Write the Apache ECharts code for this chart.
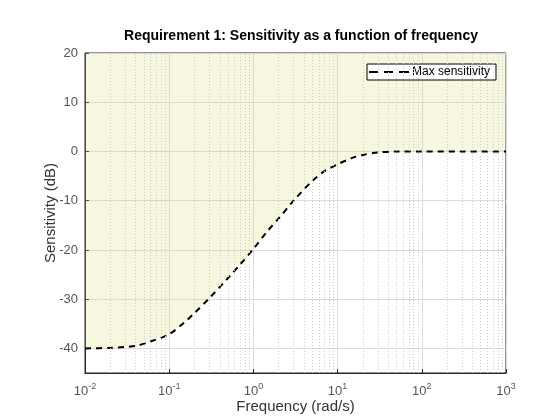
<!DOCTYPE html>
<html>
<head>
<meta charset="utf-8">
<script src="https://cdn.jsdelivr.net/npm/echarts@6/dist/echarts.min.js"></script>
<style>
html, body { margin: 0; padding: 0; background: #fff; }
#chart { width: 560px; height: 420px; }
</style>
</head>
<body>
<div id="chart"></div>
<script>
// values (frequency in rad/s, sensitivity in dB)
var freq = [0.01, 0.02, 0.03, 0.04, 0.06, 0.1, 0.15, 0.2, 0.3, 0.5, 0.7, 1, 1.5, 2, 3, 5, 7, 10, 15, 20, 30, 50, 100, 300, 1000];
var sens = [-40, -39.9, -39.7, -39.5, -38.6, -37.1, -34.8, -32.8, -29.8, -25.7, -22.9, -19.8, -16, -13.6, -10, -6, -4, -2.6, -1.3, -0.7, -0.2, 0, 0, 0, 0];
var yTicks = [-40, -30, -20, -10, 0, 10, 20];
// minor log grid at 2..9 x 10^k
var minorX = [];
for (var e = -2; e < 3; e++) {
	for (var m = 2; m <= 9; m++) {
		minorX.push(m * Math.pow(10, e));
	}
}

var pts = [];
for (var i = 0; i < freq.length; i++) {
	pts.push([freq[i], sens[i]]);
}

// three dashes for the legend, padded to a 40x10 box
var dashIcon = 'path://M0,0h0.01v0.01h-0.01z M0,4h9v2h-9z M15,4h9v2h-9z M30,4h10v2h-10z M0,10h0.01v0.01h-0.01z';

var chart = echarts.init(document.getElementById('chart'));
chart.setOption({
	animation: false,
	textStyle: { fontFamily: 'Liberation Sans, Arial, sans-serif' },
	title: {
		text: 'Requirement 1: Sensitivity as a function of frequency',
		left: 296,
		top: 24,
		textAlign: 'center',
		textStyle: { fontSize: 14, fontWeight: 'bold', color: '#000' }
	},
	legend: {
		data: [{ name: 'Max sensitivity', icon: dashIcon }],
		left: 367,
		top: 64,
		backgroundColor: '#fff',
		borderColor: '#000',
		borderWidth: 1,
		borderRadius: 0,
		padding: [2, 6, 2, 2],
		itemWidth: 40,
		itemHeight: 10,
		itemGap: 4,
		itemStyle: { color: '#000', borderWidth: 0 },
		textStyle: { fontSize: 12, color: '#000', padding: [0, 0, 0, -2] }
	},
	grid: {
		left: 85,
		right: 54,
		top: 53,
		bottom: 47,
		outerBoundsMode: 'none',
		show: true,
		borderColor: '#262626',
		borderWidth: 1
	},
	xAxis: {
		type: 'log',
		logBase: 10,
		min: 0.01,
		max: 1000,
		name: 'Frequency (rad/s)',
		nameLocation: 'middle',
		nameGap: 26,
		nameMoveOverlap: false,
		nameTextStyle: { fontSize: 15, color: '#333' },
		axisLine: { onZero: false, lineStyle: { color: '#262626' } },
		axisTick: { inside: true, length: 4, lineStyle: { color: '#262626' } },
		splitLine: { show: true, lineStyle: { color: '#dcdcdc' } },
		axisLabel: {
			margin: 9,
			color: '#555',
			formatter: function(v) {
				var p = Math.round(Math.log(v) / Math.LN10);
				return '{b|10}{s|' + p + '}';
			},
			rich: {
				b: { fontSize: 13, color: '#555', verticalAlign: 'bottom' },
				s: { fontSize: 9, color: '#555', verticalAlign: 'bottom', padding: [0, 0, 7, 0] }
			}
		}
	},
	yAxis: {
		type: 'value',
		min: -45,
		max: 20,
		name: 'Sensitivity (dB)',
		nameLocation: 'middle',
		nameGap: 27,
		nameMoveOverlap: false,
		nameTextStyle: { fontSize: 15, color: '#333' },
		axisLine: { show: true, lineStyle: { color: '#262626' } },
		axisTick: { show: true, inside: true, length: 4, customValues: yTicks, lineStyle: { color: '#262626' } },
		splitLine: { show: true, lineStyle: { color: '#dcdcdc' } },
		axisLabel: { customValues: yTicks, fontSize: 13, color: '#555', margin: 7 }
	},
	series: [{
		name: 'fill',
		type: 'line',
		data: pts,
		smooth: 0.3,
		symbol: 'none',
		silent: true,
		lineStyle: { width: 0, opacity: 0 },
		areaStyle: { origin: 'end', color: 'rgba(222,222,120,0.34)' },
		z: 1
	}, {
		name: 'minor',
		type: 'line',
		data: [],
		silent: true,
		markLine: {
			silent: true,
			symbol: ['none', 'none'],
			label: { show: false },
			lineStyle: { type: [1, 2], color: '#cccccc', width: 1 },
			data: minorX.map(function(v) { return { xAxis: v }; })
		},
		z: 2
	}, {
		name: 'Max sensitivity',
		type: 'line',
		data: pts,
		smooth: 0.3,
		symbol: 'none',
		color: '#000',
		lineStyle: { color: '#000', width: 2, type: [6, 5] },
		z: 3
	}]
});
</script>
</body>
</html>
